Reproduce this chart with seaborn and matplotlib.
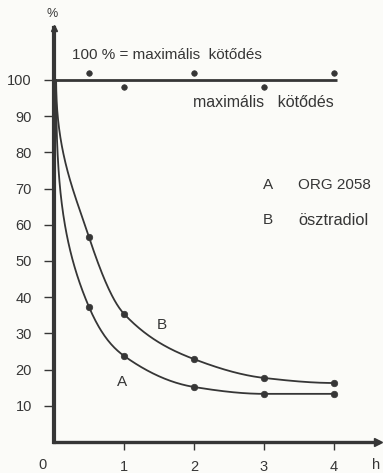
import numpy as np
import pandas as pd
import matplotlib
matplotlib.use("Agg")
import matplotlib.pyplot as plt
import seaborn as sns

# Measured binding (% of maximum) over time (hours)
hours = [0.5, 1, 2, 3, 4]
org2058 = [37.3, 23.8, 15.2, 13.3, 13.3]        # curve A
estradiol = [56.6, 35.4, 22.9, 17.7, 16.3]      # curve B
start_hour = 0.03
start_pct = 100.0

# Reference "maximal binding" measurements
max_hours = [0.5, 1, 2, 3, 4]
max_pct = [102, 98, 102, 98, 102]

y_ticks = [10, 20, 30, 40, 50, 60, 70, 80, 90, 100]
x_ticks = [1, 2, 3, 4]

INK = "#363636"
BG = "#fbfbf8"
FONT = ["Liberation Sans", "DejaVu Sans"]
FS_TICK = 10.5
FS = 11

# drawing scale: screen units per hour and per percent
SX, SY = 70.0, 3.62


def pchip_slopes(x, y):
    x = np.asarray(x, float)
    y = np.asarray(y, float)
    h = np.diff(x)
    d = np.diff(y) / h
    n = len(x)
    m = np.zeros(n)
    for k in range(1, n - 1):
        if d[k - 1] * d[k] <= 0:
            m[k] = 0.0
        else:
            w1 = 2 * h[k] + h[k - 1]
            w2 = h[k] + 2 * h[k - 1]
            m[k] = (w1 + w2) / (w1 / d[k - 1] + w2 / d[k])

    def end(h0, h1, d0, d1):
        v = ((2 * h0 + h1) * d0 - h0 * d1) / (h0 + h1)
        if np.sign(v) != np.sign(d0):
            v = 0.0
        elif np.sign(d0) != np.sign(d1) and abs(v) > abs(3 * d0):
            v = 3 * d0
        return v

    m[0] = end(h[0], h[1], d[0], d[1])
    m[-1] = end(h[-1], h[-2], d[-1], d[-2])
    return m


def hermite(x, y, m, xs):
    x = np.asarray(x, float)
    y = np.asarray(y, float)
    h = np.diff(x)
    idx = np.clip(np.searchsorted(x, xs) - 1, 0, len(x) - 2)
    t = (xs - x[idx]) / h[idx]
    h00 = 2 * t**3 - 3 * t**2 + 1
    h10 = t**3 - 2 * t**2 + t
    h01 = -2 * t**3 + 3 * t**2
    h11 = t**3 - t**2
    return (h00 * y[idx] + h10 * h[idx] * m[idx]
            + h01 * y[idx + 1] + h11 * h[idx] * m[idx + 1])


def smooth_curve(px, py):
    """Pen-style curve: leaves the start point straight down, then
    follows a shape-preserving spline through the remaining points."""
    m = pchip_slopes(px, py)
    # first segment as a cubic Bezier in screen units
    p0 = np.array([px[0] * SX, py[0] * SY])
    p3 = np.array([px[1] * SX, py[1] * SY])
    chord = np.hypot(*(p3 - p0))
    tan = np.array([SX, m[1] * SY])
    tan /= np.hypot(*tan)
    p1 = p0 + np.array([0.0, -0.45 * chord])
    p2 = p3 - tan * 0.30 * chord
    u = np.linspace(0, 1, 120)[:, None]
    bez = ((1 - u) ** 3 * p0 + 3 * (1 - u) ** 2 * u * p1
           + 3 * (1 - u) * u ** 2 * p2 + u ** 3 * p3)
    xs1, ys1 = bez[:, 0] / SX, bez[:, 1] / SY
    xs2 = np.linspace(px[1], px[-1], 300)
    ys2 = hermite(px[1:], py[1:], m[1:], xs2)
    return np.concatenate([xs1, xs2]), np.concatenate([ys1, ys2])


sns.set_theme(style="white")
plt.rcParams["font.family"] = FONT
plt.rcParams["text.color"] = INK

fig = plt.figure(figsize=(3.83, 4.73), dpi=100, facecolor=BG)
ax = fig.add_axes([54 / 383, (473 - 442) / 473, (378 - 54) / 383, (442 - 28) / 473])
ax.set_facecolor(BG)

x_max = (378 - 54) / SX
y_max = (442 - 28) / SY
ax.set_xlim(0, x_max)
ax.set_ylim(0, y_max)

# smooth curves through the measurements
for vals in (org2058, estradiol):
    cx, cy = smooth_curve([start_hour] + hours, [start_pct] + vals)
    sns.lineplot(x=cx, y=cy, ax=ax, color=INK, lw=1.3,
                 estimator=None, sort=False)

pts = pd.DataFrame({
    "h": hours * 2,
    "pct": org2058 + estradiol,
})
sns.scatterplot(data=pts, x="h", y="pct", ax=ax, color=INK, s=22,
                edgecolor=INK, linewidth=0.5, zorder=4)

# maximal binding line and its measurement points
ax.plot([0, 4.04], [100, 100], color=INK, lw=2.0, solid_capstyle="butt")
sns.scatterplot(x=max_hours, y=max_pct, ax=ax, color=INK, s=16,
                edgecolor=INK, linewidth=0.5, zorder=4)

# axes
for side in ("top", "right"):
    ax.spines[side].set_visible(False)
ax.spines["left"].set_color(INK)
ax.spines["left"].set_linewidth(3.0)
ax.spines["bottom"].set_color(INK)
ax.spines["bottom"].set_linewidth(2.4)
ax.plot([0], [y_max], marker="^", ms=5, color=INK, clip_on=False)
ax.plot([x_max], [0], marker=">", ms=6, color=INK, clip_on=False)

ax.set_yticks(y_ticks)
ax.set_yticklabels([str(v) for v in y_ticks])
ax.set_xticks(x_ticks)
ax.set_xticklabels([str(v) for v in x_ticks])
ax.tick_params(axis="y", direction="out", length=7, width=1, color=INK,
               labelsize=FS_TICK, labelcolor=INK, pad=9, left=True)
ax.tick_params(axis="x", direction="out", length=6, width=1, color=INK,
               labelsize=FS_TICK, labelcolor=INK, pad=7, bottom=True)
ax.set_xlabel("")
ax.set_ylabel("")

# extra axis annotations
ax.text(-0.16, -6.3, "0", ha="center", va="center", fontsize=FS_TICK, color=INK)
ax.text(4.6, -6.3, "h", ha="center", va="center", fontsize=FS_TICK, color=INK)
ax.text(-0.03, y_max + 3.9, "%", ha="center", va="center", fontsize=9, color=INK)

ax.text(0.26, 106.9, "100 % = maximális  kötődés", ha="left", va="center",
        fontsize=FS, color=INK)
ax.text(1.99, 93.9, "maximális   kötődés", ha="left", va="center",
        fontsize=11.5, color=INK)

ax.text(3.06, 71.0, "A", ha="center", va="center", fontsize=FS, color=INK)
ax.text(3.49, 71.0, "ORG 2058", ha="left", va="center", fontsize=FS, color=INK)
ax.text(3.06, 61.3, "B", ha="center", va="center", fontsize=FS, color=INK)
ax.text(3.49, 61.3, "ösztradiol", ha="left", va="center", fontsize=11.8, color=INK)

ax.text(1.54, 32.3, "B", ha="center", va="center", fontsize=FS, color=INK)
ax.text(0.97, 16.6, "A", ha="center", va="center", fontsize=FS, color=INK)

fig.savefig("out.png", dpi=100, facecolor=BG)
